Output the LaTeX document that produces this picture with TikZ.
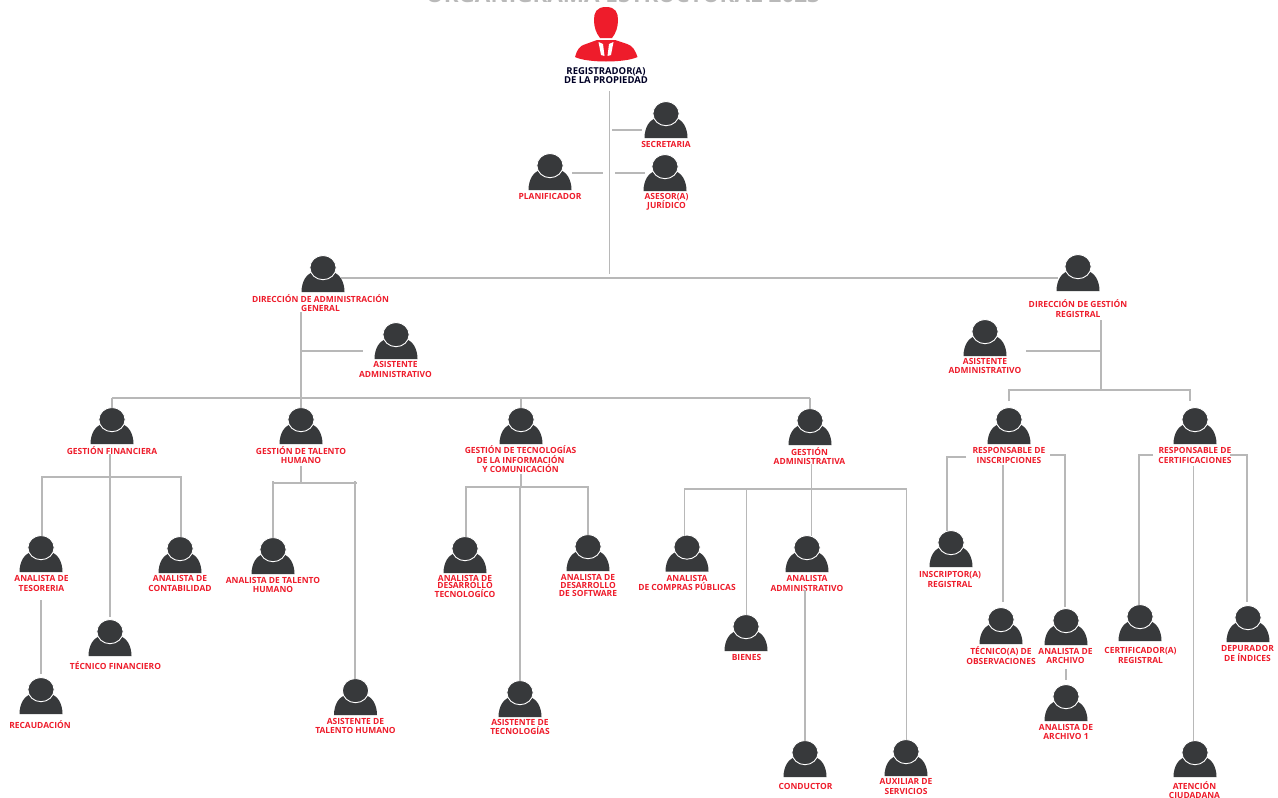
\documentclass[tikz,border=0pt]{standalone}
\usepackage{fontspec}
\setmainfont{Open Sans}
\definecolor{iconc}{HTML}{37393B}
\definecolor{redc}{HTML}{EE1C2B}
\definecolor{linec}{HTML}{B8B8B8}
\definecolor{titlec}{HTML}{B9B9B9}
\tikzset{
  iconbox/.style={minimum width=43pt,minimum height=36pt,inner sep=0pt,outer sep=0pt},
  lab/.style={text=redc,align=center,inner sep=0pt,outer sep=0pt},
  conn/.style={draw=linec,line width=1.15pt},
}
\newcommand{\person}[3]{%
  \node[iconbox] (#1) at (#2,#3+18) {};
  \fill[iconc] (#2-21.5,#3+36) .. controls (#2-21.5,#3+25) and (#2-16,#3+17) .. (#2-9,#3+16)
     -- (#2+9,#3+16) .. controls (#2+16,#3+17) and (#2+21.5,#3+25) .. (#2+21.5,#3+36) -- cycle;
  \fill[iconc,draw=white,line width=0.9pt] (#2,#3+11.6) ellipse [x radius=13.1pt,y radius=12.1pt];
}
\newcommand{\plab}[5][9.6]{%
  \node[lab,font=\bfseries\fontsize{8.45}{#1}\selectfont] (#2-l) at (#3,#4) {#5};
}
\begin{document}
\begin{tikzpicture}[x=1pt,y=-1pt]
\useasboundingbox (0,0) rectangle (1278,798);
\fill[white] (0,0) rectangle (1278,798);
\begin{scope}
\clip (0,0) rectangle (1278,798);
\node[anchor=base,text=titlec,font=\bfseries\fontsize{22.5}{25}\selectfont,inner sep=0pt] (title) at (623,2.2) {ORGANIGRAMA ESTRUCTURAL 2023};
\end{scope}

% ---- red head of the chart
\node[iconbox,minimum width=63pt,minimum height=55pt] (reg) at (606,34.5) {};
\fill[redc] (606,7) .. controls (596,7) and (594,13) .. (594,20) .. controls (594,27) and (596,33) .. (600,38)
  -- (612,38) .. controls (616,33) and (618,27) .. (618,20) .. controls (618,13) and (616,7) .. (606,7) -- cycle;
\fill[redc] (575,57) .. controls (577,50) and (579,46) .. (586,44) -- (597,40) -- (615,40) -- (627,44)
  .. controls (633,46) and (635,50) .. (637.5,57) .. controls (625,63) and (587,63) .. (575,57) -- cycle;
\fill[white] (598.5,42) -- (603,44) -- (604.5,56) -- (601,55) -- cycle;
\fill[white] (613.5,42) -- (609,44) -- (607.5,56) -- (611,55) -- cycle;
\node[lab,text=black!85!blue,font=\bfseries\fontsize{9.5}{9.4}\selectfont] (reg-l) at (606,75.5) {REGISTRADOR(A)\\DE LA PROPIEDAD};

% ---- persons
\person{sec}{666}{102}   \plab{sec}{666}{144.5}{SECRETARIA}
\person{ase}{665}{155}   \plab{ase}{666.5}{202}{ASESOR(A)\\JURÍDICO}
\person{pla}{550}{154}   \plab{pla}{550}{196}{PLANIFICADOR}
\person{dag}{323}{256}   \plab{dag}{320.5}{303}{DIRECCIÓN DE ADMINISTRACIÓN\\GENERAL}
\person{asa}{396}{323}   \plab{asa}{395.5}{369.5}{ASISTENTE\\ADMINISTRATIVO}
\person{dgr}{1078}{255}  \plab{dgr}{1078}{308.5}{DIRECCIÓN DE GESTIÓN\\REGISTRAL}
\person{asg}{985}{320}   \plab{asg}{985}{366}{ASISTENTE\\ADMINISTRATIVO}
\person{gf}{112}{408}    \plab{gf}{112}{450.5}{GESTIÓN FINANCIERA}
\person{gth}{301}{408}   \plab{gth}{301}{455}{GESTIÓN DE TALENTO\\HUMANO}
\person{gti}{521}{408}   \plab{gti}{520.5}{459.5}{GESTIÓN DE TECNOLOGÍAS\\DE LA INFORMACIÓN\\Y COMUNICACIÓN}
\person{gad}{810}{409}   \plab{gad}{809.5}{456}{GESTIÓN\\ADMINISTRATIVA}
\person{ate}{41}{536}    \plab{ate}{41.5}{583.5}{ANALISTA DE\\TESORERIA}
\person{aco}{180}{537}   \plab{aco}{180}{583.5}{ANALISTA DE\\CONTABILIDAD}
\person{tfi}{110}{620}   \plab{tfi}{115.5}{666}{TÉCNICO FINANCIERO}
\person{rec}{41}{678}    \plab{rec}{40}{725}{RECAUDACIÓN}
\person{ath}{273}{538}   \plab{ath}{273}{585}{ANALISTA DE TALENTO\\HUMANO}
\person{asth}{355.5}{679}\plab{asth}{355.5}{726}{ASISTENTE DE\\TALENTO HUMANO}
\person{ade}{465}{537}   \plab[7.6]{ade}{465}{586.5}{ANALISTA DE\\DESARROLLO\\TECNOLOGÍCO}
\person{ads}{588}{535}   \plab[8]{ads}{588}{585}{ANALISTA DE\\DESARROLLO\\DE SOFTWARE}
\person{ast}{520}{681}   \plab[7.8]{ast}{520}{727}{ASISTENTE DE\\TECNOLOGÍAS}
\person{acp}{687}{535.5} \plab{acp}{687}{583}{ANALISTA\\DE COMPRAS PÚBLICAS}
\person{bie}{746}{615}   \plab{bie}{746.5}{657}{BIENES}
\person{aad}{807}{536}   \plab{aad}{807}{583.5}{ANALISTA\\ADMINISTRATIVO}
\person{con}{805}{741}   \plab{con}{805.5}{786}{CONDUCTOR}
\person{aux}{906}{740}   \plab{aux}{906}{786.5}{AUXILIAR DE\\SERVICIOS}
\person{rin}{1009}{408}  \plab{rin}{1009}{455.3}{RESPONSABLE DE\\INSCRIPCIONES}
\person{rce}{1195}{408}  \plab{rce}{1195}{455.3}{RESPONSABLE DE\\CERTIFICACIONES}
\person{ins}{951}{531}   \plab{ins}{950}{579.7}{INSCRIPTOR(A)\\REGISTRAL}
\person{tob}{1001}{608}  \plab{tob}{1001}{655.7}{TÉCNICO(A) DE\\OBSERVACIONES}
\person{aar}{1066}{609}  \plab{aar}{1065.5}{656}{ANALISTA DE\\ARCHIVO}
\person{aa1}{1066}{685}  \plab{aa1}{1066}{732}{ANALISTA DE\\ARCHIVO 1}
\person{cer}{1140}{605}  \plab{cer}{1140.5}{655.2}{CERTIFICADOR(A)\\REGISTRAL}
\person{dep}{1248}{606}  \plab{dep}{1247.5}{653.5}{DEPURADOR\\DE ÍNDICES}
\person{atc}{1195}{741}  \plab[8.6]{atc}{1194.5}{790}{ATENCIÓN\\CIUDADANA}

% ---- junction coordinates
\coordinate (mT) at (609.5,91);   \coordinate (mB) at (609.5,274);
\coordinate (secS) at (612,130);  \coordinate (secE) at (642,130);
\coordinate (plaS) at (572,173);  \coordinate (plaE) at (603,173);
\coordinate (aseS) at (615,173);  \coordinate (aseE) at (645,173);
\coordinate (topL) at (341,278);  \coordinate (topR) at (1058,278);
\coordinate (dagS) at (301,312);  \coordinate (dagB) at (301,398);
\coordinate (asaJ) at (301,351);  \coordinate (asaE) at (363,351);
\coordinate (busL) at (112,398);  \coordinate (busR) at (810,398);
\coordinate (gfS) at (110,454);   \coordinate (gfB) at (110,617);
\coordinate (gfbL) at (42,477);   \coordinate (gfbR) at (181,477);
\coordinate (recT) at (41,600);   \coordinate (recB) at (41,674);
\coordinate (gthS) at (301,466);  \coordinate (gthJ) at (301,483);
\coordinate (gthL) at (272,483);  \coordinate (gthR) at (357,483);
\coordinate (gthLt) at (273,481); \coordinate (gthRt) at (355,481);
\coordinate (gtiS) at (521,474);  \coordinate (gtiJ) at (521,487);
\coordinate (gtiL) at (466,487);  \coordinate (gtiR) at (588,487);
\coordinate (gtiM) at (520,487);
\coordinate (gadS) at (811.5,464);\coordinate (gadB) at (811.5,536);
\coordinate (gadL) at (684.5,489);\coordinate (gadR) at (906.5,489);
\coordinate (bieJ) at (746.5,489);
\coordinate (conT) at (805,590);
\coordinate (dgrS) at (1101,320); \coordinate (dgrB) at (1101,390);
\coordinate (asgS) at (1026,351); \coordinate (asgE) at (1100,351);
\coordinate (regL) at (1009,390); \coordinate (regR) at (1190,390);
\coordinate (regLb) at (1009,401);\coordinate (regRb) at (1190,401);
\coordinate (insS) at (966,457);  \coordinate (insC) at (947,457); \coordinate (insB) at (947,531);
\coordinate (aarS) at (1050,455); \coordinate (aarC) at (1065,455); \coordinate (aarB) at (1065,607);
\coordinate (tobS) at (1003,465); \coordinate (tobB) at (1003,602);
\coordinate (a1T) at (1066,669);  \coordinate (a1B) at (1066,680);
\coordinate (cerS) at (1153,455); \coordinate (cerC) at (1139,455); \coordinate (cerB) at (1139,605);
\coordinate (depS) at (1230,455); \coordinate (depC) at (1247,455); \coordinate (depB) at (1247,602);
\coordinate (atcS) at (1193.5,466); \coordinate (atcB) at (1193.5,741);

% ---- connectors
\draw[conn,line width=1.5pt] (mT) -- (mB);
\draw[conn] (secS) -- (secE);
\draw[conn] (plaS) -- (plaE);
\draw[conn] (aseS) -- (aseE);
\draw[conn] (topL) -- (topR);
\draw[conn] (dagS) -- (dagB);
\draw[conn] (asaJ) -- (asaE);
\draw[conn] (busL) -- (busR);
\draw[conn] (busL) -- (gf.north -| busL);
\draw[conn] (dagB) -- (gth.north);
\draw[conn] (gti.north |- busL) -- (gti.north);
\draw[conn] (busR) -- (gad.north);
\draw[conn] (gfS) -- (gfB);
\draw[conn] (ate.north -| gfbL) -- (gfbL) -- (gfbR) -- (aco.north -| gfbR);
\draw[conn] (recT) -- (recB);
\draw[conn] (gthS) -- (gthJ);
\draw[conn] (gthL) -- (gthR);
\draw[conn] (gthLt) -- (ath.north -| gthLt);
\draw[conn] (gthRt) -- (asth.north -| gthRt);
\draw[conn] (gtiS) -- (gtiJ);
\draw[conn] (ade.north -| gtiL) -- (gtiL) -- (gtiR) -- (ads.north -| gtiR);
\draw[conn] (gtiM) -- (ast.north -| gtiM);
\draw[conn] (gadS) -- (gadB);
\draw[conn] (acp.north -| gadL) -- (gadL) -- (gadR) -- (aux.north -| gadR);
\draw[conn] (bieJ) -- (bie.north -| bieJ);
\draw[conn] (conT) -- (con.north -| conT);
\draw[conn] (dgrS) -- (dgrB);
\draw[conn] (asgS) -- (asgE);
\draw[conn] (regLb) -- (regL) -- (regR) -- (regRb);
\draw[conn] (insS) -- (insC) -- (insB);
\draw[conn] (aarS) -- (aarC) -- (aarB);
\draw[conn] (tobS) -- (tobB);
\draw[conn] (a1T) -- (a1B);
\draw[conn] (cerS) -- (cerC) -- (cerB);
\draw[conn] (depS) -- (depC) -- (depB);
\draw[conn] (atcS) -- (atcB);
\end{tikzpicture}
\end{document}
